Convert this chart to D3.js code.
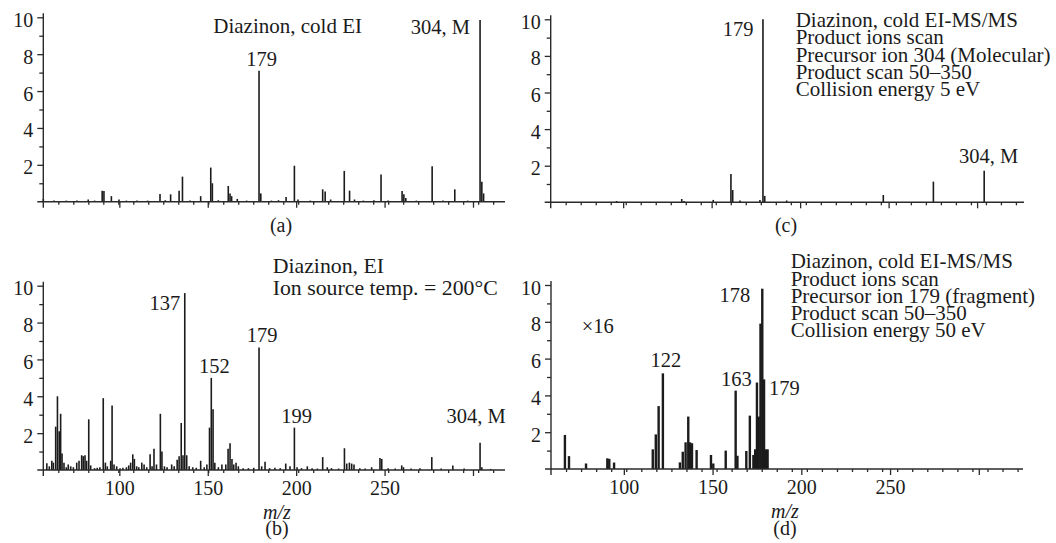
<!DOCTYPE html>
<html>
<head>
<meta charset="utf-8">
<script src="https://cdn.jsdelivr.net/npm/d3@7"></script>
<style>
  body { margin: 0; background: #fff; }
  svg text { font-family: "Liberation Serif", "Times New Roman", serif; fill: #1b1b1b; }
</style>
</head>
<body>
<svg id="fig" width="1056" height="543"></svg>
<script>
// ---- Spectra: [m/z, relative intensity] ----
// (a) Diazinon, cold EI
const peaksA = [[57,0.15],[63,0.06],[70,0.06],[76,0.06],[82.4,0.12],[86,0.06],[90.3,0.6],[91.3,0.58],[95.5,0.3],[99.8,0.12],
  [104,0.06],[110,0.06],[116,0.06],[123,0.42],[126,0.08],[129,0.4],[133.8,0.6],[135.7,1.36],[140,0.06],[146,0.3],
  [151.7,1.85],[152.6,1.0],[156,0.08],[161.6,0.85],[162.6,0.45],[163.5,0.3],[166.7,0.15],[172,0.06],[179,7.1],[180,0.45],
  [186,0.06],[190,0.08],[194.3,0.25],[199,1.95],[201,0.12],[208,0.06],[215,0.67],[216.4,0.55],[219.5,0.12],[227.2,1.67],
  [230.2,0.6],[233,0.12],[238,0.06],[244,0.08],[248,1.47],[252,0.06],[259.9,0.58],[260.9,0.4],[262,0.2],[268,0.06],
  [276.9,1.92],[283,0.06],[289.7,0.67],[297,0.06],[304,9.85],[305,1.08],[306,0.45]];

// (b) Diazinon, EI, ion source 200 °C
const peaksB = [[59,0.36],[60.4,0.2],[61.8,0.5],[62.7,0.4],[64,2.35],[65,4.0],[66,2.1],[66.8,3.05],[67.6,0.9],[68.7,0.4],
  [70,0.15],[71.1,0.3],[72.5,0.2],[74,0.15],[75.9,0.4],[77.2,0.5],[78.7,0.8],[79.6,0.75],[80.6,0.8],[81.5,0.5],
  [82.7,2.75],[83.8,0.25],[86,0.1],[87.5,0.12],[89,0.15],[90.9,3.9],[92.1,0.4],[93.2,0.2],[95.1,0.5],[95.9,3.5],
  [97,0.3],[98.5,0.2],[100.4,0.1],[102,0.12],[104,0.15],[105.3,0.25],[106.4,0.4],[107.6,0.85],[108.5,0.6],[109.8,0.2],
  [111,0.15],[112.7,0.4],[114,0.3],[115.5,0.15],[117.4,0.85],[118.5,0.2],[119.6,1.15],[121,0.3],[123.2,3.05],[124.1,1.0],
  [125.5,0.2],[127,0.15],[129.6,0.3],[131,0.2],[132.7,0.55],[133.8,0.75],[135,2.55],[136,0.8],[137,9.6],[138.1,0.8],
  [139.5,0.2],[141.5,0.15],[143.5,0.12],[146,0.5],[148,0.15],[149.5,0.3],[151,2.3],[152,5.0],[153,3.3],[154,0.4],
  [156,0.15],[158,0.3],[160.2,0.3],[161.5,1.15],[162.6,1.45],[163.7,0.6],[164.7,0.3],[166,0.4],[167.3,0.2],[170,0.1],
  [173,0.1],[176,0.12],[179,6.65],[180.5,0.2],[182.4,0.45],[185,0.1],[188,0.12],[191,0.1],[194.1,0.35],[196.5,0.2],
  [199,2.3],[200.5,0.15],[203,0.1],[206.3,0.2],[209,0.1],[212,0.08],[215,0.7],[217.6,0.15],[220,0.1],[224,0.08],
  [227.3,1.18],[228.6,0.35],[230.1,0.4],[231.4,0.35],[232.7,0.3],[236,0.1],[239,0.08],[242.7,0.15],[247.4,0.65],[248.4,0.6],
  [252,0.1],[256,0.08],[259.7,0.25],[260.7,0.15],[265,0.08],[270,0.1],[276.7,0.7],[282,0.08],[288.6,0.25],[295,0.08],
  [304,1.48],[305,0.15],[310,0.06]];

// (c) cold EI-MS/MS, precursor 304, 5 eV
const peaksC = [[96.3,0.07],[133.1,0.18],[134.4,0.07],[150.9,0.13],[160.9,1.55],[161.9,0.67],[166,0.1],[177.3,0.13],
  [179,10],[180,0.35],[192.4,0.1],[247,0.4],[275.3,1.13],[304,1.73]];

// (d) cold EI-MS/MS, precursor 179, 50 eV (x16)
const peaksD = [[66.8,1.85],[69.1,0.7],[78.7,0.3],[90.7,0.58],[91.8,0.55],[94.5,0.35],[116.3,1.07],[118,1.88],[119.6,3.42],
  [122,5.2],[131.6,0.36],[133.2,0.94],[134.8,1.45],[136.3,2.85],[137.3,1.45],[138.4,1.4],[141,1.03],[149.1,0.76],
  [150.4,0.3],[157.4,1.0],[163,4.26],[164,0.72],[169,0.98],[171,2.9],[173,0.76],[174,1.07],[175,4.7],[176,2.85],
  [177,7.9],[178,9.8],[179,4.87],[180,1.07],[181,1.07]];

// ---- Axis ticks ----
const yMajorTicks = [2, 4, 6, 8, 10];
const yMinorTicks = [1, 3, 5, 7, 9];
const xMajorTicks = [100, 150, 200, 250, 300];
const xTickLabels = ["100", "150", "200", "250", ""];
const minorStep = 8.48;

// ---- Annotation text ----
const titleA = ["Diazinon, cold EI"];
const titleB = ["Diazinon, EI", "Ion source temp. = 200\u00B0C"];
const titleC = ["Diazinon, cold EI-MS/MS", "Product ions scan", "Precursor ion 304 (Molecular)", "Product scan 50\u2013350", "Collision energy 5 eV"];
const titleD = ["Diazinon, cold EI-MS/MS", "Product ions scan", "Precursor ion 179 (fragment)", "Product scan 50\u2013350", "Collision energy 50 eV"];

const svg = d3.select("#fig");
const INK = "#1b1b1b";

function drawPanel(p) {
  const g = svg.append("g");
  const x = d3.scaleLinear().domain(p.xDomain).range(p.xRange);
  const y = d3.scaleLinear().domain([0, 10]).range(p.yRange);
  const x0 = p.xRange[0], y0 = y(0);

  // spectrum sticks
  g.append("g").selectAll("line").data(p.peaks).join("line")
    .attr("x1", d => x(d[0])).attr("x2", d => x(d[0]))
    .attr("y1", y0).attr("y2", d => y(d[1]))
    .attr("stroke", INK).attr("stroke-width", p.barWidth);

  // x axis baseline
  g.append("line").attr("x1", x0 - 6).attr("x2", p.xRange[1]).attr("y1", y0).attr("y2", y0)
    .attr("stroke", "#2a2a2a").attr("stroke-width", 1.4);
  // y axis line
  g.append("line").attr("x1", x0).attr("x2", x0).attr("y1", y(10) - 4).attr("y2", y0 + 6)
    .attr("stroke", "#2a2a2a").attr("stroke-width", 1.4);

  // x minor ticks
  const minor = d3.range(p.xDomain[0] + minorStep, p.xDomain[1], minorStep);
  const xMinor = d3.axisBottom(x).tickValues(minor).tickSize(3).tickFormat("");
  g.append("g").attr("transform", `translate(0,${y0})`).call(xMinor)
    .call(s => s.select(".domain").remove())
    .call(s => s.selectAll("line").attr("stroke", "#2a2a2a").attr("stroke-width", 1.3));
  // x major ticks
  const xMajor = d3.axisBottom(x).tickValues(xMajorTicks).tickSize(6).tickPadding(5)
    .tickFormat((d, i) => p.xLabels ? xTickLabels[i] : "");
  g.append("g").attr("transform", `translate(0,${y0})`).call(xMajor)
    .call(s => s.select(".domain").remove())
    .call(s => s.selectAll("line").attr("stroke", "#2a2a2a").attr("stroke-width", 1.3))
    .call(s => s.selectAll("text").attr("font-size", 20).attr("font-family", null).attr("fill", INK));

  // y ticks
  const yMinor = d3.axisLeft(y).tickValues(yMinorTicks).tickSize(4).tickFormat("");
  g.append("g").attr("transform", `translate(${x0},0)`).call(yMinor)
    .call(s => s.select(".domain").remove())
    .call(s => s.selectAll("line").attr("stroke", "#2a2a2a").attr("stroke-width", 1.3));
  const yMajor = d3.axisLeft(y).tickValues(yMajorTicks).tickSize(6).tickPadding(4);
  g.append("g").attr("transform", `translate(${x0},0)`).call(yMajor)
    .call(s => s.select(".domain").remove())
    .call(s => s.selectAll("line").attr("stroke", "#2a2a2a").attr("stroke-width", 1.3))
    .call(s => s.selectAll("text").attr("font-size", 20).attr("font-family", null)
      .attr("fill", INK).attr("dy", "0.45em"));

  // peak labels
  g.append("g").selectAll("text").data(p.labels).join("text")
    .attr("x", d => x(d.mz) + d.dx)
    .attr("y", d => y(d.at))
    .attr("text-anchor", d => d.anchor)
    .attr("font-size", 20.5)
    .text(d => d.text);

  // title block
  g.append("g").selectAll("text").data(p.title).join("text")
    .attr("x", p.titlePos[0]).attr("y", (d, i) => p.titlePos[1] + i * p.lineGap)
    .attr("font-size", p.titleSize).text(d => d);

  // m/z caption and panel letter
  if (p.xLabels) {
    g.append("text").attr("x", p.captionX).attr("y", y0 + 49).attr("text-anchor", "middle")
      .attr("font-size", 20).attr("font-style", "italic").text("m/z");
  }
  g.append("text").attr("x", p.captionX).attr("y", p.letterY).attr("text-anchor", "middle")
    .attr("font-size", 20).text(p.letter);
}

drawPanel({
  peaks: peaksA, xDomain: [57, 318.1], xRange: [43.3, 505], yRange: [201.7, 17.3], barWidth: 1.6,
  labels: [
    { text: "179", mz: 179, at: 7.1 + 0.25, dx: 2.5, anchor: "middle" },
    { text: "304, M", mz: 304, at: 9.1, dx: -10, anchor: "end" }
  ],
  title: titleA, titlePos: [213.3, 33.3], lineGap: 20, titleSize: 21,
  xLabels: false, captionX: 281, letterY: 232, letter: "(a)"
});

drawPanel({
  peaks: peaksB, xDomain: [57, 318.1], xRange: [43.3, 505], yRange: [470, 285.7], barWidth: 1.6,
  labels: [
    { text: "137", mz: 137, at: 8.7, dx: -4.5, anchor: "end" },
    { text: "152", mz: 152, at: 5.0 + 0.28, dx: 3, anchor: "middle" },
    { text: "179", mz: 179, at: 6.65 + 0.31, dx: 3, anchor: "middle" },
    { text: "199", mz: 199, at: 2.3 + 0.27, dx: 2.3, anchor: "middle" },
    { text: "304, M", mz: 304, at: 2.57, dx: -4, anchor: "middle" }
  ],
  title: titleB, titlePos: [272.7, 272.7], lineGap: 22.3, titleSize: 21.8,
  xLabels: true, captionX: 277, letterY: 535, letter: "(b)"
});

drawPanel({
  peaks: peaksC, xDomain: [59.06, 326.5], xRange: [550.7, 1024], yRange: [202.3, 19.3], barWidth: 1.6,
  labels: [
    { text: "179", mz: 179, at: 9.1, dx: -9.5, anchor: "end" },
    { text: "304, M", mz: 304, at: 1.73 + 0.4, dx: 4.5, anchor: "middle" }
  ],
  title: titleC, titlePos: [795.7, 26.7], lineGap: 17.4, titleSize: 21,
  xLabels: false, captionX: 786, letterY: 232, letter: "(c)"
});

drawPanel({
  peaks: peaksD, xDomain: [58.96, 324.9], xRange: [551, 1023], yRange: [469, 285], barWidth: 2.4,
  labels: [
    { text: "122", mz: 122, at: 5.2 + 0.33, dx: 3, anchor: "middle" },
    { text: "163", mz: 163, at: 4.26 + 0.27, dx: 0.7, anchor: "middle" },
    { text: "178", mz: 178, at: 9.1, dx: -12, anchor: "end" },
    { text: "179", mz: 179, at: 4.0, dx: 5, anchor: "start" }
  ],
  title: titleD, titlePos: [790.7, 268.3], lineGap: 17.2, titleSize: 21,
  xLabels: true, captionX: 785, letterY: 535, letter: "(d)"
});

// scale factor note in panel (d)
svg.append("text").attr("x", 581.7).attr("y", 333.3).attr("font-size", 20.5).text("\u00D716");
</script>
</body>
</html>
